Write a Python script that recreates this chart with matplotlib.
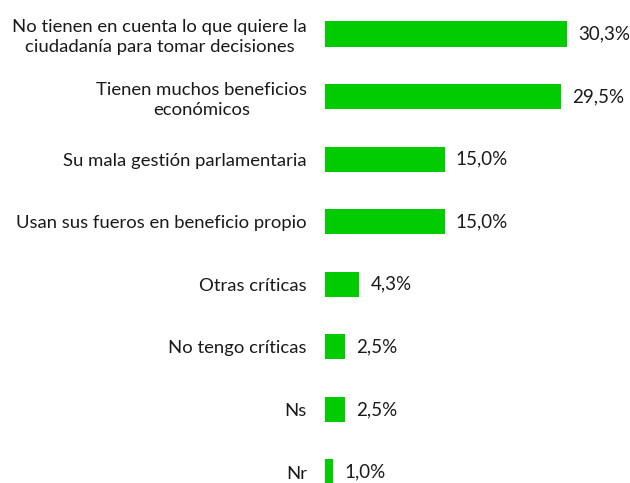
import numpy as np
import matplotlib.pyplot as plt

# =============================================================================
# Define variables
# =============================================================================
categories = ['No tienen en cuenta lo que quiere la\nciudadanía para tomar decisiones',
              'Tienen muchos beneficios\neconómicos',
              'Su mala gestión parlamentaria',
              'Usan sus fueros en beneficio propio',
              'Otras críticas',
              'No tengo críticas',
              'Ns',
              'Nr']
values = [30.3, 29.5, 15.0, 15.0, 4.3, 2.5, 2.5, 1.0]
value_labels = ['30,3%', '29,5%', '15,0%', '15,0%', '4,3%', '2,5%', '2,5%', '1,0%']

BAR_COLOR = '#00CC00'

# =============================================================================
# Start of code
# =============================================================================
if __name__ == "__main__":
    plt.rcParams['font.family'] = ['Lato', 'DejaVu Sans']

    fig = plt.figure(figsize=(6.3, 4.83), dpi=100)
    ax = fig.add_axes([325 / 630, 0, 305 / 630, 1])

    ypos = np.arange(len(categories))
    ax.barh(ypos, values, height=0.4, color=BAR_COLOR)

    ax.set_xlim(0, 305 / 7.99)
    ax.set_ylim(7 + 11 / 62.6, -34 / 62.6)

    ax.set_yticks(ypos)
    ax.set_yticklabels(categories, fontsize=13.3, color='#1a1a1a',
                       multialignment='center', linespacing=1.3)
    ax.tick_params(axis='y', length=0, pad=13)
    ax.set_xticks([])
    for spine in ax.spines.values():
        spine.set_visible(False)

    # value labels
    for y, v, lab in zip(ypos, values, value_labels):
        ax.annotate(lab, xy=(v, y), xytext=(11, 0), textcoords='offset pixels',
                    va='center', ha='left', fontsize=13.5, color='#1a1a1a')

    fig.savefig('out.png', dpi=100)
